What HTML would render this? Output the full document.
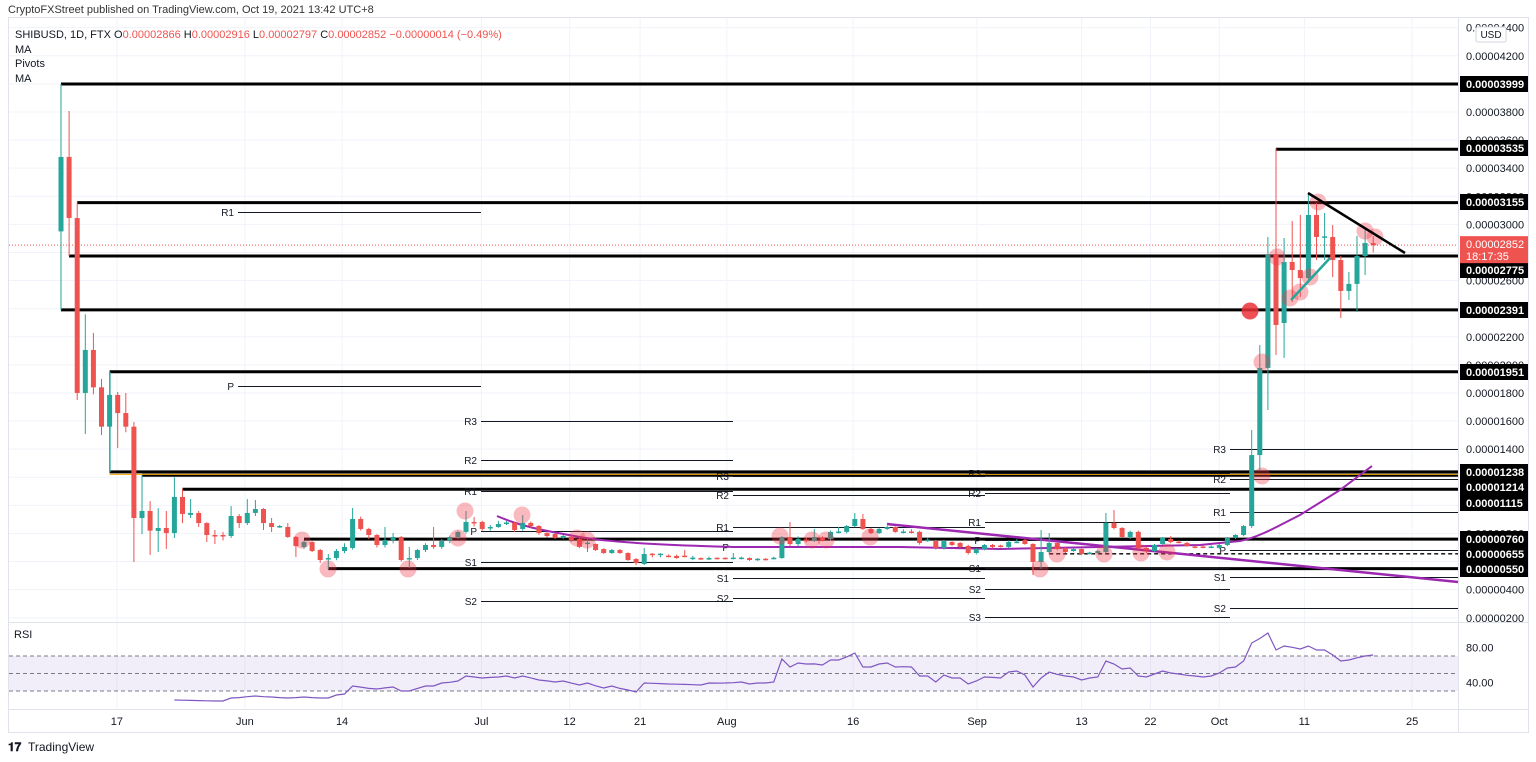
<!DOCTYPE html>
<html><head><meta charset="utf-8"><title>SHIBUSD chart</title>
<style>
html,body{margin:0;padding:0;background:#fff;width:1536px;height:762px;overflow:hidden;font-family:"Liberation Sans",sans-serif;}
svg text{font-family:"Liberation Sans",sans-serif;}
</style></head>
<body>
<svg id="chart" width="1536" height="762" viewBox="0 0 1536 762" xmlns="http://www.w3.org/2000/svg">
  <text x="8" y="13" font-size="11" fill="#333">CryptoFXStreet published on TradingView.com, Oct 19, 2021 13:42 UTC+8</text>
  <rect x="8.5" y="17.5" width="1520" height="715" fill="#fff" stroke="#e0e3eb"/>
  <g id="grid"></g>
  <g id="levels"></g>
  <g id="pivots"></g>
  <g id="ma"></g>
  <g id="candles"></g>
  <g id="marks"></g>
  <g id="axis"></g>
  <g id="rsi"></g>
  <g id="time"></g>
  <g font-size="11" fill="#131722">
    <text x="15" y="38"><tspan fill="#131722">SHIBUSD, 1D, FTX  O</tspan><tspan fill="#ef5350">0.00002866</tspan><tspan>  H</tspan><tspan fill="#ef5350">0.00002916</tspan><tspan>  L</tspan><tspan fill="#ef5350">0.00002797</tspan><tspan>  C</tspan><tspan fill="#ef5350">0.00002852  −0.00000014 (−0.49%)</tspan></text>
    <text x="15" y="53">MA</text>
    <text x="15" y="67">Pivots</text>
    <text x="15" y="82">MA</text>
  </g>
  <g>
    <text x="8" y="751" font-size="12" font-weight="bold" fill="#131722">𝟏𝟕</text>
    <text x="28" y="751" font-size="12" fill="#131722">TradingView</text>
  </g>
  <rect x="1476" y="27" width="30" height="15" fill="#fff" stroke="#d1d4dc" rx="2"/>
  <text x="1491" y="38" font-size="10" text-anchor="middle" fill="#131722">USD</text>
</svg>
<script>
// ---- data (prices in units of 1e-6 USD) ----
const opens=[29.5,34.8,30.45,18.0,21.06,18.4,15.6,17.86,16.57,15.6,9.1,9.6,8.18,8.39,8.03,10.6,9.32,9.46,8.74,7.89,7.89,7.82,9.24,8.74,9.46,9.74,8.74,8.46,8.46,7.75,7.04,7.39,6.82,6.18,6.25,6.75,6.97,9.03,8.32,7.89,7.18,7.53,7.75,6.18,6.25,6.82,7.18,7.04,7.46,7.75,8.11,8.82,8.82,8.39,8.46,8.72,8.75,8.32,8.75,8.53,8.03,7.96,7.68,7.75,7.61,7.28,7.25,6.89,6.61,6.82,6.61,6.18,5.83,6.56,6.50,6.42,6.40,6.42,6.22,6.25,6.18,6.27,6.27,6.22,6.22,6.25,6.14,6.2,6.2,6.25,7.75,7.25,7.56,7.46,7.68,7.61,8.08,8.11,8.53,9.03,8.32,8.03,8.32,8.46,8.08,8.14,8.11,7.50,7.46,6.97,7.39,7.32,7.11,6.61,6.89,7.18,7.14,7.04,7.36,7.53,7.25,5.97,6.68,7.32,6.97,6.75,6.89,6.58,6.61,6.68,8.75,8.39,7.75,8.11,6.97,6.75,7.25,7.61,7.42,7.32,7.07,7.07,7.01,6.97,7.18,7.68,7.89,8.53,13.58,19.78,27.89,22.98,27.32,26.75,26.18,30.67,29.05,29.1,27.46,25.26,25.76,27.75,28.66];
const closes=[34.8,30.45,18.0,21.06,18.4,15.6,17.86,16.57,15.6,9.1,9.6,8.2,8.39,8.03,10.6,9.39,9.46,8.74,7.89,7.82,7.82,9.24,8.74,9.46,9.74,8.74,8.46,8.53,7.75,7.1,7.39,6.75,6.11,6.25,6.75,7.04,9.03,8.32,7.89,7.18,7.53,7.75,6.11,6.25,6.82,7.18,7.04,7.46,7.75,8.11,8.82,8.75,8.32,8.46,8.67,8.78,8.25,8.75,8.53,8.03,7.82,7.68,7.82,7.53,7.04,7.35,6.82,6.61,6.82,6.61,6.11,5.90,6.54,6.50,6.56,6.38,6.25,6.36,6.28,6.18,6.25,6.22,6.22,6.28,6.28,6.11,6.2,6.14,6.27,7.75,7.25,7.61,7.50,7.75,7.53,8.11,8.14,8.53,9.03,8.32,8.03,8.32,8.46,8.11,8.14,8.08,7.32,7.56,6.97,7.46,7.18,7.04,6.61,6.89,7.18,7.04,7.08,7.39,7.42,7.25,5.97,6.68,7.32,6.89,6.68,6.89,6.54,6.64,6.75,8.75,8.39,7.75,8.11,6.97,6.82,7.18,7.68,7.39,7.36,7.11,7.01,7.01,7.07,7.18,7.68,7.89,8.53,13.58,19.78,27.82,22.84,27.32,26.75,26.18,30.67,29.1,29.15,27.46,25.26,25.76,27.75,28.67,28.52];
const highs=[40.0,38.07,31.6,23.6,22.27,19.0,19.5,18.07,18.0,15.93,12.16,10.3,9.8,9.6,12.0,11.16,10.45,9.6,8.8,8.25,8.1,9.95,9.38,10.45,10.38,9.8,9.1,8.6,8.74,7.82,7.5,7.46,6.9,6.54,6.9,7.3,9.81,9.2,8.4,7.95,8.46,8.03,7.82,7.04,6.9,7.3,8.46,7.6,7.85,8.2,9.60,9.17,8.9,8.6,8.9,8.9,8.85,9.31,8.85,8.6,8.1,8.0,7.9,7.85,7.7,7.6,7.3,6.95,6.9,6.9,6.65,6.25,6.97,6.6,6.6,6.5,6.5,6.82,6.4,6.3,6.35,6.3,6.3,6.61,6.35,6.3,6.25,6.25,6.35,7.8,8.82,7.8,7.7,8.32,7.8,8.2,8.46,8.6,9.46,9.38,8.4,8.4,8.55,8.5,8.3,8.3,8.2,7.7,7.55,7.55,7.45,7.4,7.2,6.95,7.25,7.25,7.2,7.5,7.6,7.6,7.3,8.25,8.03,7.4,7.0,6.95,6.95,6.7,6.8,9.46,9.67,8.45,8.2,8.2,7.0,7.25,7.75,7.82,7.5,7.4,7.15,7.15,7.15,7.25,7.75,7.95,8.6,15.36,21.41,29.1,35.43,29.03,30.24,30.67,32.23,31.52,30.81,29.95,27.75,26.61,29.17,29.67,29.16];
const lows=[23.9,27.75,17.5,15.08,17.9,15.0,12.3,14.08,15.2,5.97,7.96,6.47,6.68,6.9,7.68,8.74,9.1,8.46,7.39,7.25,7.5,7.68,8.39,8.6,9.24,8.25,8.1,8.4,7.68,6.32,6.9,6.68,5.9,5.47,6.1,6.6,6.85,8.2,7.6,7.0,7.0,7.3,6.0,5.54,6.11,6.68,6.9,6.9,7.3,7.6,8.0,8.5,8.2,8.2,8.4,8.6,8.1,8.2,8.4,7.9,7.7,7.6,7.6,7.4,6.95,6.68,6.75,6.55,6.55,6.55,6.05,5.75,5.75,6.3,6.3,6.3,6.2,6.3,6.1,6.12,6.1,6.15,6.15,6.15,6.15,6.05,6.05,6.08,6.15,6.2,7.1,7.1,7.35,7.4,7.45,7.5,8.0,8.0,8.45,8.25,7.95,7.95,8.25,8.05,8.0,8.0,7.2,7.4,6.85,6.85,7.1,6.95,6.5,6.5,6.8,6.95,7.0,6.95,7.3,7.2,5.04,5.47,6.6,6.8,6.6,6.7,6.45,6.5,6.55,6.6,8.3,7.7,7.6,6.9,6.6,6.7,7.2,7.3,7.3,7.05,6.95,6.95,6.95,6.9,7.1,7.6,7.8,8.39,12.52,16.79,20.7,20.5,24.47,24.83,26.04,27.46,27.46,26.25,23.33,24.62,23.76,26.4,28.0];
const rsiStart=14;
const rsiValues=[19.7,19.5,19.3,19,18.8,18.6,18.6,22,22.5,23.5,24.3,23.5,23.1,22.5,22,22.5,23.1,22.5,22,22,25.4,26.6,35.7,34.5,33,32.3,33.5,34.6,30,30,33,35.7,35.7,39.1,40,41.4,47.1,46,44.9,45.5,46,47.1,44.9,47.1,45,42.6,41.5,40.3,41.4,39,36.9,39.1,36,33.4,35.7,33,31.1,28.9,39.1,38.8,38.5,38,37.8,37.5,37.2,36.9,39.1,39,39.1,39.5,40.3,38,39.1,39.1,40.3,66.6,57.4,62,60.9,61,59.7,65.4,65.4,69,73.4,57.4,57.4,60.9,62,57.4,57.8,57.4,47.1,47.1,40.3,48.3,44.9,44.9,38,41.4,46,45.5,44.9,51.7,52.9,48.3,34.6,44.9,51.7,49,47.1,46,42.6,44.9,46,64.3,60.9,55.1,56.3,47.1,46,49.4,52.9,50.6,49.4,48,47.1,46,47.1,50.6,56.3,57.4,64.3,84.9,90,96.3,76.9,81.4,80,78,81.4,76.9,76.9,71.1,64.3,65.4,68,70,71.1];
const priceTicks=[2,4,6,8,10,12,14,16,18,20,22,24,26,28,30,32,34,36,38,40,42,44];
const levelPrices=[39.99,35.35,31.55,27.75,23.91,19.51,12.38,12.14,11.15,7.60,6.55,5.50];
const levelStarts=[0,150,2,1,0,6,6,10,15,30,122,33];
const timeLabels=["17","Jun","14","Jul","12","21","Aug","16","Sep","13","22","Oct","11","25"];
const timeIdx=[6.9,22.7,34.7,51.9,62.8,71.5,82.2,97.8,113.1,126,134.5,143,153.5,166.8];

// ---- scales ----
const NS="http://www.w3.org/2000/svg";
const X0=61, DX=8.1, PANE_R=1458;
const xS=i=>X0+i*DX;
const yS=p=>84+(39.99-p)*14.05;
const yR=v=>656+(70-v)*0.875;
function mk(tag,attrs,parent){const e=document.createElementNS(NS,tag);for(const k in attrs)e.setAttribute(k,attrs[k]);parent.appendChild(e);return e;}
const G=id=>document.getElementById(id);

// grid
const grid=G('grid');
priceTicks.forEach(p=>{const y=yS(p);if(y>18&&y<622){const l=mk('line',{x1:9,x2:PANE_R,y1:y,y2:y,stroke:'#f0f3fa'},grid);

}});
timeIdx.forEach(i=>{const x=xS(i);const l=mk('line',{x1:x,x2:x,y1:18,y2:709,stroke:'#f0f3fa'},grid);

});
mk('line',{x1:9,x2:1528,y1:622.5,y2:622.5,stroke:'#e0e3eb'},grid);
mk('line',{x1:9,x2:1528,y1:709.5,y2:709.5,stroke:'#e0e3eb'},grid);
mk('line',{x1:PANE_R+.5,x2:PANE_R+.5,y1:18,y2:732,stroke:'#e0e3eb'},grid);

// current price dotted line
const cp=mk('line',{x1:9,x2:PANE_R,y1:yS(closes[closes.length-1]),y2:yS(closes[closes.length-1]),stroke:'#ef5350','stroke-dasharray':'1,2','stroke-width':1},grid);



// horizontal levels
const lv=G('levels');
levelPrices.forEach((p,k)=>{const y=yS(p);
 const l=mk('line',{x1:xS(levelStarts[k]),x2:PANE_R,y1:y,y2:y,stroke:'#000','stroke-width':k==10?1.3:3,'stroke-dasharray':k==10?'4,3':'none'},lv);
 
 });
mk('line',{x1:xS(6)+.5,x2:xS(6)+.5,y1:yS(19.51),y2:yS(12.38),stroke:'#26a69a'},lv);
mk('line',{x1:xS(6),x2:PANE_R,y1:yS(12.38)+2.5,y2:yS(12.38)+2.5,stroke:'#f7a600','stroke-width':1},lv);

// pivots
const pv=G('pivots');
const pivotSets=[[238,481,[['R1',212],['P',386]]],[481,733,[['R3',421],['R2',460],['R1',491],['P',531],['S1',562],['S2',601]]],[733,985,[['R3',476],['R2',495],['R1',527],['P',547],['S1',578],['S2',598]]],[985,1230,[['R3',473],['R2',493],['R1',522],['P',540],['S1',568],['S2',589],['S3',617]]],[1230,1458,[['R3',449],['R2',479],['R1',512],['P',550],['S1',577],['S2',608]]]];
pivotSets.forEach(s=>s[2].forEach(([n,y])=>{const l=mk('line',{x1:s[0],x2:s[1],y1:y+.5,y2:y+.5,stroke:'#131722','stroke-width':1},pv);


const t=mk('text',{x:s[0]-4,y:y+4,'font-size':10,'text-anchor':'end',fill:'#131722'},pv);t.textContent=n;

}));

// MAs
const ma=G('ma');
const m1=mk('path',{d:'M497,516 C520,526 540,530 580,537 S700,546 733,547 L900,547 L1000,549 L1100,547 L1200,545 L1240,541 C1260,537 1280,525 1300,515 L1340,490 L1372,466',fill:'none',stroke:'#9c27b0','stroke-width':2},ma);


const m2=mk('line',{x1:887,y1:524,x2:1458,y2:582,stroke:'#9c27b0','stroke-width':2.5},ma);



// candles
const cg=G('candles');
opens.forEach((o,i)=>{const c=closes[i],up=c>=o,col=up?'#26a69a':'#ef5350',x=xS(i);
 const w=mk('line',{x1:x,x2:x,y1:yS(highs[i]),y2:yS(lows[i]),stroke:col,'stroke-width':1},cg);
 
 
 const top=yS(Math.max(o,c)),h=Math.max(1.5,yS(Math.min(o,c))-top);
 const b=mk('rect',{x:x-2.5,y:top,width:5,height:h,fill:col},cg);
 
 });

// annotation marks
const mg=G('marks');
const circles=[[1277,257],[1300,292],[1290,298],[1310,277],[1318,202],[1365,231],[1375,237],[1262,362],[1262,476],[302,540],[328,569],[408,569],[465,511],[458,538],[522,515],[577,538],[587,540],[780,536],[812,540],[826,540],[870,537],[1040,569],[1057,554],[1104,554],[1141,553],[1167,552]];
circles.forEach(([x,y])=>{const c=mk('circle',{cx:x,cy:y,r:8.5,fill:'rgba(242,54,69,0.35)'},mg);

});
const sc=mk('circle',{cx:1250,cy:311,r:8.5,fill:'rgba(235,50,55,0.85)'},mg);


const tl=mk('line',{x1:1308,y1:193,x2:1405,y2:253,stroke:'#000','stroke-width':2.5},mg);


const al=mk('line',{x1:1291,y1:300,x2:1330,y2:258,stroke:'#26a69a','stroke-width':2.5},mg);



// price axis
const ax=G('axis');
priceTicks.forEach(p=>{const y=yS(p);if(y<18||y>622)return;const t=mk('text',{x:1466,y:y+4,'font-size':11,fill:'#131722'},ax);t.textContent=(p/1e6).toFixed(8);

});
const boxes=[[39.99,84],[35.35,148],[31.55,202],[27.75,270],[23.91,310],[19.51,372],[12.38,472],[12.14,487],[11.15,503],[7.60,539],[6.55,554],[5.50,569]];
boxes.forEach(([p,y])=>{const r=mk('rect',{x:1460,y:y-8,width:68,height:16,fill:'#000'},ax);


const t=mk('text',{x:1466,y:y+4,'font-size':11,'font-weight':'bold',fill:'#fff'},ax);t.textContent=(p/1e6).toFixed(8);});
const cy=yS(closes[closes.length-1]);
const cr=mk('rect',{x:1460,y:cy-9,width:68,height:27,fill:'#ef5350'},ax);


let t1=mk('text',{x:1466,y:cy+3,'font-size':11,fill:'#fff'},ax);t1.textContent=(closes[closes.length-1]/1e6).toFixed(8);
let t2=mk('text',{x:1466,y:cy+15,'font-size':11,fill:'#fff'},ax);t2.textContent='18:17:35';

// RSI pane
const rg=G('rsi');
const rl=mk('text',{x:14,y:638,'font-size':11,fill:'#131722'},rg);rl.textContent='RSI';
mk('rect',{x:9,y:yR(70),width:PANE_R-9,height:yR(30)-yR(70),fill:'rgba(126,87,194,0.1)'},rg);
[70,50,30].forEach(v=>{const l=mk('line',{x1:9,x2:PANE_R,y1:yR(v),y2:yR(v),stroke:'#787b86','stroke-dasharray':'4,3','stroke-width':1},rg);

});
[80,40].forEach(v=>{const t=mk('text',{x:1466,y:yR(v)+4,'font-size':11,fill:'#131722'},rg);t.textContent=v.toFixed(2);

});
const rp=mk('path',{d:rsiValues.map((v,k)=>(k?'L':'M')+xS(rsiStart+k).toFixed(1)+','+yR(v).toFixed(1)).join(' '),fill:'none',stroke:'#7e57c2','stroke-width':1.2},rg);



// time axis
const tg=G('time');
timeLabels.forEach((s,k)=>{const t=mk('text',{x:xS(timeIdx[k]),y:725,'font-size':11,'text-anchor':'middle',fill:'#131722'},tg);t.textContent=s;

});
</script>
</body></html>
